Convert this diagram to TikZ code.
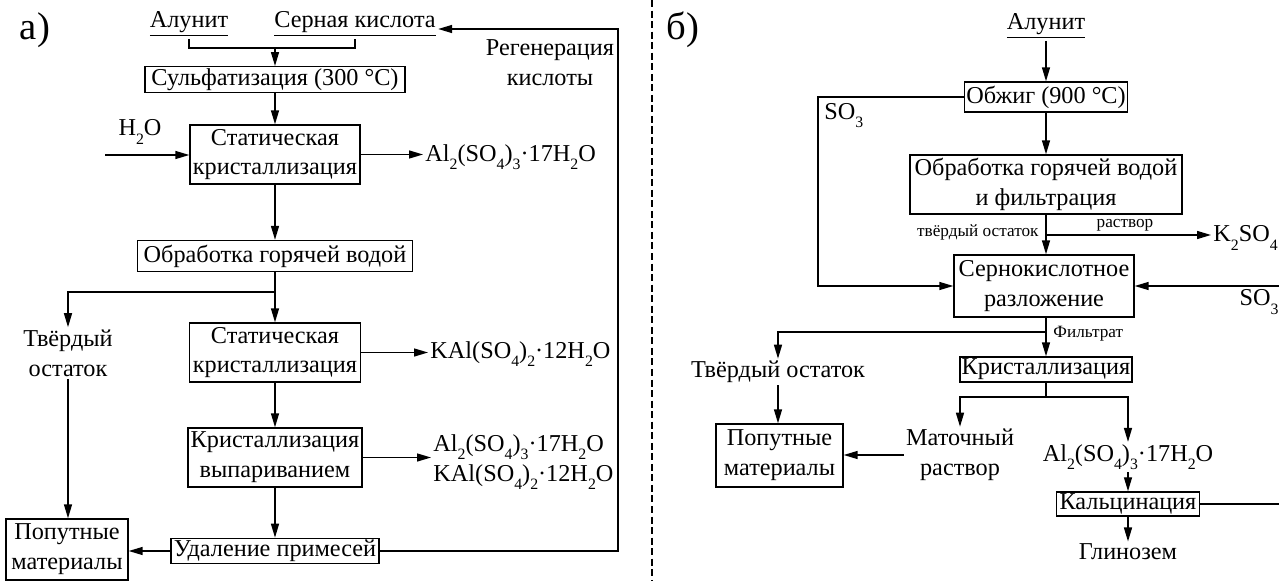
\documentclass[tikz,border=0pt]{standalone}
\usepackage{fontspec}
\setmainfont{Liberation Serif}
\usetikzlibrary{arrows.meta}
\newcommand{\ix}[1]{\raisebox{-0.75ex}{\fontsize{9}{9}\selectfont #1}}

\begin{document}
\begin{tikzpicture}[x=0.02cm,y=-0.02cm,
    font=\fontsize{13.8}{17}\selectfont,
    line width=0.8pt,
    arr/.style={-{Triangle[length=0.28cm,width=0.16cm]}},
    box/.style={draw,inner sep=1pt,align=center},
    txt/.style={inner sep=1pt,align=center},
    lbl/.style={inner sep=1pt,font=\fontsize{9.8}{11}\selectfont}]
  \useasboundingbox (0,0) rectangle (1279,581);
  \draw[line width=0.6pt,dash pattern=on 4pt off 2pt] (652,0) -- (652,581);

  \node[txt,font=\fontsize{22}{22}\selectfont] (laba) at (35,30) {а)};
  \node[txt] (alunA) at (189,24) {\underline{Алунит}};
  \node[txt] (acid) at (355,24) {\underline{Серная кислота}};
  \node[box,minimum width=5.2cm,minimum height=0.5cm] (sulf) at (275,79.5) {Сульфатизация (300 °С)};
  \node[box,minimum width=3.4cm,minimum height=1.18cm] (stat1) at (275,154.5) {Статическая\\кристаллизация};
  \node[txt] (h2o) at (140,132) {H\ix{2}O};
  \node[txt,anchor=west] (alumA) at (423,157) {Al\ix{2}(SO\ix{4})\ix{3}·17H\ix{2}O};
  \node[txt] (regen) at (550,63) {Регенерация\\кислоты};
  \node[box,minimum width=5.5cm,minimum height=0.62cm] (hot) at (275,256) {Обработка горячей водой};
  \node[txt] (solidA) at (68,353) {Твёрдый\\остаток};
  \node[box,minimum width=3.42cm,minimum height=1.18cm] (stat2) at (275,352.5) {Статическая\\кристаллизация};
  \node[txt,anchor=west] (kalA) at (428,354) {KAl(SO\ix{4})\ix{2}·12H\ix{2}O};
  \node[box,minimum width=3.48cm,minimum height=1.18cm] (evap) at (275,457.5) {Кристаллизация\\выпариванием};
  \node[txt,anchor=west,align=left] (mix) at (431,462) {Al\ix{2}(SO\ix{4})\ix{3}·17H\ix{2}O\\KAl(SO\ix{4})\ix{2}·12H\ix{2}O};
  \node[box,minimum width=4.16cm,minimum height=0.5cm] (purif) at (275,551) {Удаление примесей};
  \node[box,minimum width=2.44cm,minimum height=1.22cm] (popA) at (67,549.5) {Попутные\\материалы};

  \coordinate (jA) at (275,48);
  \coordinate (jB) at (275,292);
  \coordinate (rg) at (618,29);
  \coordinate (wA) at (105,155);
  \draw (alunA.south) |- (jA) -| (acid.south);
  \draw[arr] (jA) -- (sulf.north);
  \draw[arr] (sulf.south) -- (stat1.north);
  \draw[arr] (wA) -- (stat1.west |- wA);
  \draw[arr] (stat1.east) -- (stat1.east -| alumA.west);
  \draw[arr] (stat1.south) -- (hot.north);
  \draw (hot.south) -- (jB);
  \draw[arr] (jB) -| (solidA.north);
  \draw[arr] (jB) -- (stat2.north);
  \draw[arr] (stat2.east) -- (stat2.east -| kalA.west);
  \draw[arr] (stat2.south) -- (evap.north);
  \draw[arr] (evap.east) -- (evap.east -| mix.west);
  \draw[arr] (evap.south) -- (purif.north);
  \draw[arr] (purif.west) -- (popA.east |- purif.west);
  \draw[arr] (solidA.south) -- (popA.north -| solidA.south);
  \draw[arr] (purif.east) -| (rg) -- (acid.east |- rg);

  \node[txt,font=\fontsize{22}{22}\selectfont] (labb) at (683,30) {б)};
  \node[txt] (alunB) at (1046,26) {\underline{Алунит}};
  \node[box,minimum width=3.24cm,minimum height=0.6cm] (roast) at (1046,97) {Обжиг (900 °С)};
  \node[txt,anchor=north west] (so3a) at (822,101) {SO\ix{3}};
  \node[box,minimum width=5.44cm,minimum height=1.18cm] (hotf) at (1046,184.5) {Обработка горячей водой\\и фильтрация};
  \node[lbl,anchor=east] (resA) at (1041,232) {твёрдый остаток};
  \node[lbl] (sol) at (1125,225) {раствор};
  \node[txt,anchor=west] (k2so4) at (1211,238) {K\ix{2}SO\ix{4}};
  \node[box,minimum width=3.6cm,minimum height=1.24cm] (decomp) at (1044,286) {Сернокислотное\\разложение};
  \node[txt] (so3b) at (1259,302) {SO\ix{3}};
  \node[lbl,anchor=west] (filt) at (1051,334) {Фильтрат};
  \node[box,minimum width=3.4cm,minimum height=0.5cm] (cryst) at (1046,369.5) {Кристаллизация};
  \node[txt] (solidB) at (778,372) {Твёрдый остаток};
  \node[box,minimum width=2.54cm,minimum height=1.26cm] (popB) at (779.5,455.5) {Попутные\\материалы};
  \node[txt] (mother) at (960,455) {Маточный\\раствор};
  \node[txt] (alumB) at (1128,457) {Al\ix{2}(SO\ix{4})\ix{3}·17H\ix{2}O};
  \node[box,minimum width=2.86cm,minimum height=0.48cm] (calc) at (1128,504) {Кальцинация};
  \node[txt] (glin) at (1128,552) {Глинозем};

  \coordinate (sB) at (818,286);
  \coordinate (jC) at (1046,235);
  \coordinate (jD) at (1046,332);
  \coordinate (jE) at (1046,397);
  \coordinate (eR) at (1279,286);
  \coordinate (eC) at (1279,504);
  \draw[arr] (alunB.south) -- (roast.north);
  \draw[arr] (roast.west) -| (sB) -- (decomp.west);
  \draw[arr] (roast.south) -- (hotf.north);
  \draw[arr] (hotf.south) -- (decomp.north -| hotf.south);
  \draw[arr] (jC) -- (k2so4.west |- jC);
  \draw[arr] (eR) -- (decomp.east);
  \draw[arr] (decomp.south -| jD) -- (cryst.north);
  \draw[arr] (jD) -| (solidB.north);
  \draw[arr] (solidB.south) -- (popB.north -| solidB.south);
  \draw (cryst.south) -- (jE);
  \draw[arr] (jE) -| (mother.north);
  \draw[arr] (jE) -| (alumB.north);
  \draw[arr] (mother.west) -- (popB.east |- mother.west);
  \draw[arr] (alumB.south) -- (calc.north);
  \draw (calc.east) -- (eC);
  \draw[arr] (calc.south) -- (glin.north);
\end{tikzpicture}
\end{document}
